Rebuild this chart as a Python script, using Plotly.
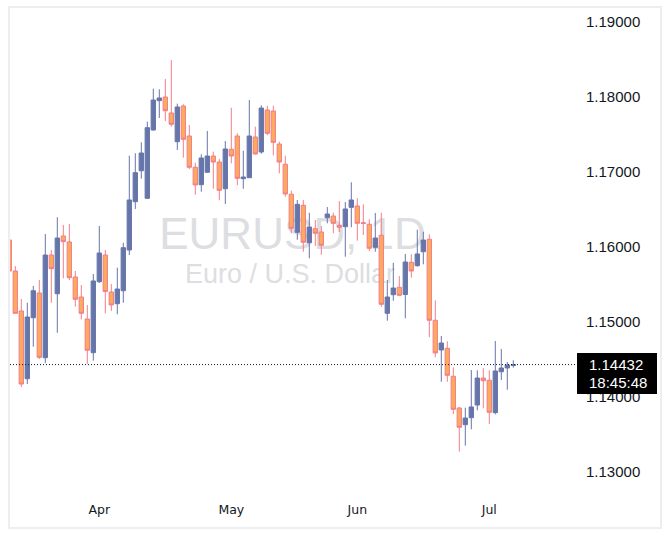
import plotly.graph_objects as go

# ---- data (EURUSD daily candles) ----
open_ = [1.16093, 1.15680, 1.15147, 1.14244, 1.15057, 1.15387, 1.14524, 1.15893, 1.15377, 1.16147,
         1.16067, 1.15600, 1.15333, 1.15040, 1.14591, 1.15537, 1.15893, 1.15400, 1.15244, 1.15417,
         1.15960, 1.16604, 1.17017, 1.16649, 1.17560, 1.17951, 1.18000, 1.17787, 1.17404, 1.17880,
         1.17480, 1.17063, 1.16831, 1.16996, 1.17213, 1.17133, 1.16777, 1.17303, 1.17480, 1.16911,
         1.16924, 1.17467, 1.17267, 1.17827, 1.17813, 1.17373, 1.17103, 1.16703, 1.16196, 1.16556,
         1.16057, 1.16244, 1.16200, 1.16391, 1.16413, 1.16289, 1.16271, 1.16529, 1.16547, 1.16324,
         1.16303, 1.15996, 1.16156, 1.15116, 1.15364, 1.15463, 1.15367, 1.15796, 1.15751, 1.15937,
         1.16103, 1.15023, 1.14627, 1.14649, 1.14276, 1.13853, 1.13631, 1.13724, 1.13893, 1.14253,
         1.14223, 1.13791, 1.14337, 1.14387, 1.14420]
high = [1.16120, 1.15747, 1.15307, 1.15257, 1.15480, 1.15560, 1.16173, 1.15960, 1.16396, 1.16293,
        1.16307, 1.15680, 1.15493, 1.15227, 1.15640, 1.16280, 1.15960, 1.15507, 1.15724, 1.16057,
        1.17217, 1.17249, 1.17396, 1.17671, 1.18111, 1.18103, 1.18240, 1.18493, 1.17911, 1.17903,
        1.17627, 1.17124, 1.17236, 1.17547, 1.17271, 1.17173, 1.17413, 1.17857, 1.17516, 1.17284,
        1.17960, 1.17604, 1.17889, 1.17884, 1.17884, 1.17404, 1.17217, 1.16751, 1.16627, 1.16627,
        1.16457, 1.16360, 1.16280, 1.16533, 1.16457, 1.16613, 1.16600, 1.16863, 1.16649, 1.16569,
        1.16369, 1.16453, 1.16457, 1.15560, 1.15791, 1.15613, 1.15907, 1.15903, 1.16231, 1.16204,
        1.16169, 1.15289, 1.14813, 1.14743, 1.14396, 1.13867, 1.13857, 1.14360, 1.14356, 1.14383,
        1.14356, 1.14747, 1.14640, 1.14467, 1.14489]
low = [1.15667, 1.15113, 1.14133, 1.14173, 1.14671, 1.14507, 1.14453, 1.15257, 1.14857, 1.15583,
       1.15560, 1.15204, 1.15036, 1.14440, 1.14484, 1.15520, 1.15116, 1.15147, 1.15103, 1.15257,
       1.15893, 1.16507, 1.16911, 1.16640, 1.17553, 1.17720, 1.17680, 1.17604, 1.17293, 1.17191,
       1.17040, 1.16697, 1.16737, 1.16993, 1.16777, 1.16623, 1.16573, 1.17116, 1.16823, 1.16777,
       1.16920, 1.17236, 1.17244, 1.17489, 1.17223, 1.16983, 1.16671, 1.16183, 1.16097, 1.15937,
       1.15849, 1.16013, 1.15897, 1.16316, 1.16183, 1.16200, 1.15871, 1.16263, 1.16084, 1.16160,
       1.15947, 1.15937, 1.15204, 1.15017, 1.15284, 1.15347, 1.15049, 1.15591, 1.15737, 1.15769,
       1.14796, 1.14529, 1.14204, 1.14204, 1.13773, 1.13271, 1.13351, 1.13569, 1.13823, 1.13849,
       1.13640, 1.13769, 1.14227, 1.14097, 1.14391]
close = [1.15680, 1.15116, 1.14173, 1.15067, 1.15417, 1.14529, 1.15893, 1.15711, 1.16120, 1.16071,
         1.15591, 1.15303, 1.15116, 1.14623, 1.15547, 1.15920, 1.15407, 1.15227, 1.15440, 1.15991,
         1.16627, 1.16991, 1.17253, 1.17591, 1.17960, 1.17987, 1.17817, 1.17636, 1.17867, 1.17436,
         1.17063, 1.16827, 1.17187, 1.17213, 1.17133, 1.16756, 1.17307, 1.17213, 1.16916, 1.16933,
         1.17480, 1.17240, 1.17853, 1.17516, 1.17396, 1.17133, 1.16707, 1.16249, 1.16569, 1.16063,
         1.16267, 1.16183, 1.16023, 1.16440, 1.16316, 1.16263, 1.16507, 1.16627, 1.16316, 1.16316,
         1.15983, 1.16120, 1.15236, 1.15333, 1.15453, 1.15356, 1.15800, 1.15680, 1.15907, 1.16093,
         1.15023, 1.14587, 1.14720, 1.14289, 1.13836, 1.13596, 1.13720, 1.13867, 1.14253, 1.14217,
         1.13796, 1.14347, 1.14387, 1.14427, 1.14432]
bar_index = list(range(len(close)))

month_ticks = [15, 37, 58, 80]
month_labels = ["Apr", "May", "Jun", "Jul"]
price_ticks = [1.13, 1.14, 1.15, 1.16, 1.17, 1.18, 1.19]
last_price = close[-1]
last_time = "18:45:48"
symbol_text = "EURUSD, 1D"
desc_text = "Euro / U.S. Dollar"

# ---- styling ----
UP = "#6776AA"
DOWN_FILL = "#FCAA5C"
DOWN_LINE = "#F27D8A"
WM = "#DDDEE2"

W, H = 670, 542
ML, MR, MT, MB = 10, 93, 8, 44
pw, ph = W - ML - MR, H - MT - MB

def px_x(px):
    return (px - ML) / pw

def px_y(py):
    return (H - MB - py) / ph

fig = go.Figure()
fig.add_trace(go.Candlestick(
    x=bar_index, open=open_, high=high, low=low, close=close,
    increasing=dict(fillcolor=UP, line=dict(color=UP, width=1)),
    decreasing=dict(fillcolor=DOWN_FILL, line=dict(color=DOWN_LINE, width=1)),
    whiskerwidth=0, hoverinfo="skip", showlegend=False,
))

shapes = [
    # watermark (below candles)
    dict(type="rect", xref="paper", yref="paper", layer="below",
         x0=px_x(140), x1=px_x(445), y0=px_y(250), y1=px_y(208),
         line=dict(width=0), fillcolor="rgba(0,0,0,0)",
         label=dict(text=symbol_text, textposition="middle center",
                    font=dict(family="Liberation Sans", size=44, color=WM))),
    dict(type="rect", xref="paper", yref="paper", layer="below",
         x0=px_x(140), x1=px_x(440), y0=px_y(284), y1=px_y(258),
         line=dict(width=0), fillcolor="rgba(0,0,0,0)",
         label=dict(text=desc_text, textposition="middle center",
                    font=dict(family="Liberation Sans", size=27, color=WM))),
    # panel border
    dict(type="rect", xref="paper", yref="paper", layer="above",
         x0=px_x(9), x1=px_x(661), y0=px_y(528), y1=px_y(7),
         line=dict(color="#EEEEF0", width=2), fillcolor="rgba(0,0,0,0)"),
    # last price dotted line
    dict(type="line", xref="paper", yref="y", layer="above",
         x0=0, x1=1, y0=last_price, y1=last_price,
         line=dict(color="#131722", width=1, dash="1px,2px")),
    # last price box
    dict(type="rect", xref="paper", yref="paper", layer="above",
         x0=px_x(577), x1=px_x(657), y0=px_y(394), y1=px_y(353),
         line=dict(width=0), fillcolor="#000000"),
]

annotations = [
    dict(x=px_x(587), y=last_price, xref="paper", yref="y", xanchor="left", yanchor="middle",
         text=f"{last_price:.5f}", showarrow=False,
         font=dict(family="Liberation Sans", size=15, color="#FFFFFF")),
    dict(x=px_x(587), y=last_price, xref="paper", yref="y", xanchor="left", yanchor="middle",
         yshift=-18, text=last_time, showarrow=False,
         font=dict(family="Liberation Sans", size=15, color="#FFFFFF")),
]

y_top = 1.19 + 14 / 7500
y_bot = 1.19 - 476 / 7500
x_lo = (ML - 9.3) / 6
x_hi = (W - MR - 9.3) / 6

fig.update_layout(
    width=W, height=H, autosize=False,
    margin=dict(l=ML, r=MR, t=MT, b=MB, pad=0),
    paper_bgcolor="#FFFFFF", plot_bgcolor="#FFFFFF",
    shapes=shapes, annotations=annotations,
    showlegend=False, boxgap=0.2, boxgroupgap=0.1,
    xaxis=dict(range=[x_lo, x_hi], tickmode="array", tickvals=month_ticks, ticktext=month_labels,
               showgrid=False, zeroline=False, showline=False, ticks="",
               rangeslider=dict(visible=False), ticklabelstandoff=2,
               tickfont=dict(family="DejaVu Sans", size=12.5, color="#131722")),
    yaxis=dict(range=[y_bot, y_top], side="right", tickmode="array", tickvals=price_ticks,
               tickformat=".5f", showgrid=False, zeroline=False, showline=False, ticks="",
               ticklabelstandoff=8,
               tickfont=dict(family="Liberation Sans", size=15, color="#131722")),
)

fig.write_html("out.html")
